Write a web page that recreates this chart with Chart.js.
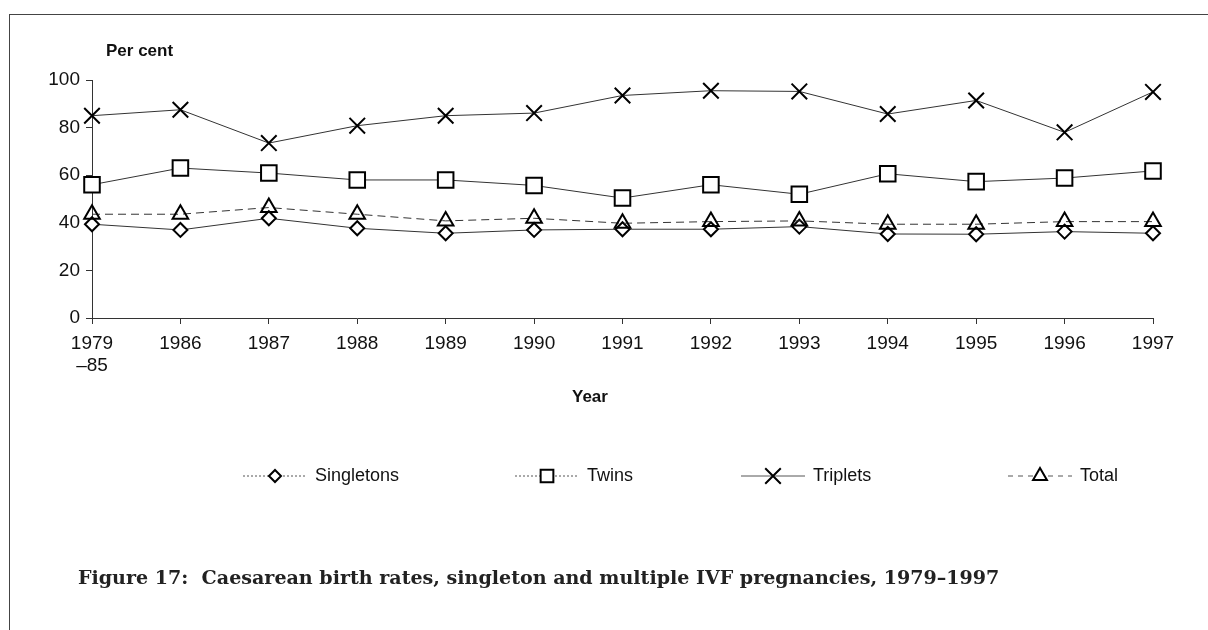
<!DOCTYPE html>
<html>
<head>
<meta charset="utf-8">
<script src="https://cdn.jsdelivr.net/npm/chart.js@4"></script>
<style>
    body { margin: 0; background: #fff; }
    #wrap { position: relative; width: 1208px; height: 630px; overflow: hidden; }
    #frameTop { position: absolute; left: 9px; top: 14px; width: 1199px; height: 0; border-top: 1.5px solid #444; }
    #frameLeft { position: absolute; left: 9px; top: 14px; width: 0; height: 616px; border-left: 1.5px solid #444; }
    .lab { position: absolute; font-family: "Liberation Sans", Arial, sans-serif; font-weight: bold; color: #111; }
    #caption { position: absolute; left: 78px; top: 566px; font-family: "DejaVu Serif", "Liberation Serif", serif; font-weight: bold; font-size: 19px; color: #222; white-space: pre; }
</style>
</head>
<body>
<div id="wrap">
    <canvas id="chart" width="1208" height="630"></canvas>
    <div id="frameTop"></div>
    <div id="frameLeft"></div>
    <div class="lab" style="left:106px; top:41px; font-size:17px;">Per cent</div>
    <div class="lab" style="left:572px; top:387px; font-size:17px;">Year</div>
    <div id="caption">Figure 17:  Caesarean birth rates, singleton and multiple IVF pregnancies, 1979–1997</div>
</div>
<script>
// Dados
const years = ["1979|–85", "1986", "1987", "1988", "1989", "1990", "1991", "1992", "1993", "1994", "1995", "1996", "1997"];
const singletons = [39.4, 37.0, 41.9, 37.7, 35.6, 37.0, 37.3, 37.3, 38.4, 35.3, 35.2, 36.3, 35.6];
const twins = [56.0, 63.0, 60.9, 58.0, 58.0, 55.7, 50.4, 56.0, 52.0, 60.6, 57.3, 58.8, 61.8];
const triplets = [85.0, 87.5, 73.5, 80.8, 85.0, 86.1, 93.5, 95.5, 95.2, 85.7, 91.4, 78.0, 95.0];
const total = [43.6, 43.6, 46.4, 43.6, 40.8, 41.9, 39.8, 40.5, 40.8, 39.4, 39.4, 40.5, 40.5];
const yTicks = [0, 20, 40, 60, 80, 100];

const FONT = "'Liberation Sans', Arial, sans-serif";

// Ajusta a legenda da figura para a largura original
const caption = document.getElementById("caption");
let fs = 19;
caption.style.fontSize = fs + "px";
fs = fs * 922 / caption.getBoundingClientRect().width;
caption.style.fontSize = fs.toFixed(2) + "px";

const series = [
    { label: "Singletons", data: singletons, pointStyle: "rectRot", radius: 7, fill: "#fff", dash: [], legendDash: [2, 2], legendX: 275, legendR: 6 },
    { label: "Twins", data: twins, pointStyle: "rect", radius: 11, fill: "#fff", dash: [], legendDash: [2, 2], legendX: 547, legendR: 9 },
    { label: "Triplets", data: triplets, pointStyle: "crossRot", radius: 11, fill: "#fff", dash: [], legendDash: [], legendX: 773, legendR: 11 },
    { label: "Total", data: total, pointStyle: "triangle", radius: 9, fill: "rgba(255,255,255,0)", dash: [8, 5], legendDash: [5, 5], legendX: 1040, legendR: 8 }
];

// Legenda desenhada à mão (linha + marcador + texto)
const legendPlugin = {
    id: "figLegend",
    afterDraw(chart) {
        const ctx = chart.ctx;
        const y = 476;
        series.forEach(s => {
            ctx.save();
            ctx.strokeStyle = "#555";
            ctx.lineWidth = 1;
            ctx.setLineDash(s.legendDash);
            ctx.beginPath();
            ctx.moveTo(s.legendX - 32, y);
            ctx.lineTo(s.legendX + 32, y);
            ctx.stroke();
            ctx.setLineDash([]);
            ctx.strokeStyle = "#000";
            ctx.fillStyle = "#fff";
            ctx.lineWidth = 2;
            Chart.helpers.drawPoint(ctx, { pointStyle: s.pointStyle, radius: s.legendR, rotation: 0, borderWidth: 2 }, s.legendX, y);
            ctx.fillStyle = "#111";
            ctx.font = "18px " + FONT;
            ctx.textBaseline = "middle";
            ctx.fillText(s.label, s.legendX + 40, y);
            ctx.restore();
        });
    }
};

new Chart(document.getElementById("chart"), {
    type: "line",
    data: {
        labels: years.map(l => l.includes("|") ? l.split("|") : l),
        datasets: series.map((s, i) => ({
            label: s.label,
            data: s.data,
            borderColor: "#333",
            borderWidth: 1,
            borderDash: s.dash,
            pointStyle: s.pointStyle,
            pointRadius: s.radius,
            pointBorderWidth: 2,
            pointBorderColor: "#000",
            pointBackgroundColor: s.fill,
            fill: false,
            tension: 0,
            order: 3 - i
        }))
    },
    options: {
        responsive: false,
        animation: false,
        events: [],
        layout: { padding: { left: 20, top: 80, right: 55, bottom: 252 } },
        plugins: {
            legend: { display: false },
            tooltip: { enabled: false }
        },
        scales: {
            x: {
                offset: false,
                afterFit: scale => { scale.height = 60; },
                grid: { display: true, drawOnChartArea: false, drawTicks: true, tickLength: 6, color: "#333" },
                border: { display: true, color: "#333", width: 1 },
                ticks: { color: "#111", font: { family: FONT, size: 19 }, padding: 8, maxRotation: 0, autoSkip: false }
            },
            y: {
                min: 0,
                max: 100,
                afterFit: scale => { scale.width = 72; },
                afterBuildTicks: scale => { scale.ticks = yTicks.map(v => ({ value: v })); },
                grid: { display: true, drawOnChartArea: false, drawTicks: true, tickLength: 6, color: "#333" },
                border: { display: true, color: "#333", width: 1 },
                ticks: { color: "#111", font: { family: FONT, size: 19 }, padding: 6 }
            }
        }
    },
    plugins: [legendPlugin]
});
</script>
</body>
</html>
